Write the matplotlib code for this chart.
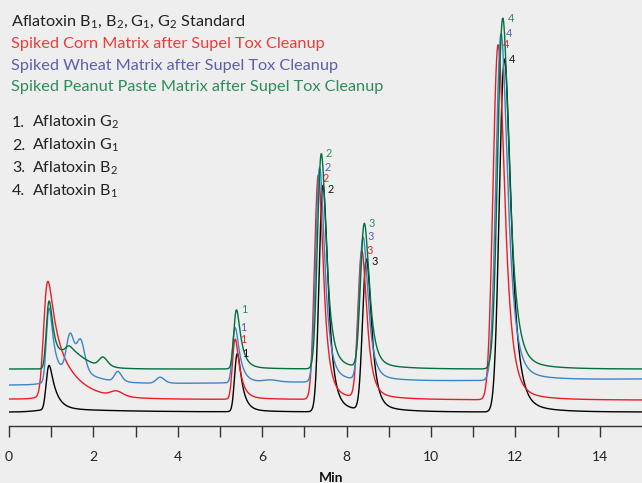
import math
import numpy as np
import matplotlib
matplotlib.use('Agg')
import matplotlib.pyplot as plt
from matplotlib.ticker import FixedLocator, FuncFormatter

plt.rcParams['font.family'] = ['Lato', 'DejaVu Sans']
plt.rcParams['mathtext.fontset'] = 'custom'
plt.rcParams['mathtext.rm'] = 'Lato'
plt.rcParams['mathtext.it'] = 'Lato:italic'
plt.rcParams['mathtext.bf'] = 'Lato:bold'
plt.rcParams['mathtext.default'] = 'regular'

# Aflatoxin peaks G2, G1, B2, B1: apex time (min) and height above baseline,
# read off the chromatogram. Peak widths are shared by all four traces.
afla_sigma = [0.05, 0.075, 0.075, 0.10]
afla_tau = [0.11, 0.11, 0.11, 0.14]

black_base = (14, 14)
black_afla_times = [5.41, 7.44, 8.47, 11.74]
black_afla_heights = [57, 222, 148, 346]
# matrix / solvent front peaks: time, height, sigma, tau
black_other_times = [0.95, 1.20]
black_other_heights = [44, 3]
black_other_sigma = [0.05, 0.3]
black_other_tau = [0.15, 1.5]

red_base = (27, 26)
red_afla_times = [5.36, 7.33, 8.36, 11.59]
red_afla_heights = [59, 220, 144, 348]
red_other_times = [0.92, 1.40, 2.55]
red_other_heights = [111, 15, 5]
red_other_sigma = [0.07, 0.3, 0.12]
red_other_tau = [0.25, 0.6, 0.1]

blue_base = (41, 47)
blue_afla_times = [5.36, 7.36, 8.39, 11.66]
blue_afla_heights = [54, 210, 140, 340]
blue_other_times = [0.95, 1.50, 1.45, 1.70, 2.58, 3.58, 6.20]
blue_other_heights = [72, 14, 36, 30, 10, 6, 2]
blue_other_sigma = [0.05, 0.3, 0.08, 0.08, 0.07, 0.08, 0.15]
blue_other_tau = [0.11, 0.5, 0.06, 0.06, 0.06, 0.07, 0.1]

green_base = (57, 57)
green_afla_times = [5.39, 7.40, 8.42, 11.70]
green_afla_heights = [58, 211, 141, 344]
green_other_times = [0.95, 1.45, 1.42, 2.23]
green_other_heights = [66, 18, 4, 9]
green_other_sigma = [0.05, 0.2, 0.06, 0.08]
green_other_tau = [0.11, 0.35, 0.06, 0.08]

peak_numbers = ['1', '2', '3', '4']

legend_lines = [
    'Aflatoxin B$_1$, B$_2$, G$_1$, G$_2$ Standard',
    'Spiked Corn Matrix after Supel Tox Cleanup',
    'Spiked Wheat Matrix after Supel Tox Cleanup',
    'Spiked Peanut Paste Matrix after Supel Tox Cleanup',
]
compounds = ['Aflatoxin G$_2$', 'Aflatoxin G$_1$', 'Aflatoxin B$_2$', 'Aflatoxin B$_1$']

x_ticks = list(range(0, 15))

erfc = np.vectorize(math.erfc)


def emg(t, s, tau):
    # gaussian convolved with an exponential decay, centred on 0
    z = (s / tau - t / s) / math.sqrt(2)
    return np.exp(s * s / (2 * tau * tau) - t / tau) * erfc(z)


def peak(t, t_apex, h, s, tau):
    dt = np.linspace(-1, 3, 4001)
    ref = emg(dt, s, tau)
    i = np.argmax(ref)
    return h * emg(t - t_apex + dt[i], s, tau) / ref[i]


def trace(t, base, afla_t, afla_h, oth_t, oth_h, oth_s, oth_tau):
    y = base[0] + (base[1] - base[0]) * t / t[-1]
    for a, h, s, ta in zip(oth_t, oth_h, oth_s, oth_tau):
        y = y + peak(t, a, h, s, ta)
    for a, h, s, ta in zip(afla_t, afla_h, afla_sigma, afla_tau):
        y = y + peak(t, a, h, s, ta)
        # slow tailing of the column
        y = y + peak(t, a + 0.2, 0.03 * h, 0.15, 0.6)
    return y


t = np.linspace(0, 15, 3001)

traces = [
    (green_base, green_afla_times, green_afla_heights, green_other_times,
     green_other_heights, green_other_sigma, green_other_tau, '#00703c', '#2e8b57'),
    (blue_base, blue_afla_times, blue_afla_heights, blue_other_times,
     blue_other_heights, blue_other_sigma, blue_other_tau, '#3d85c6', '#5a5fb5'),
    (red_base, red_afla_times, red_afla_heights, red_other_times,
     red_other_heights, red_other_sigma, red_other_tau, '#ed1c24', '#e8262b'),
    (black_base, black_afla_times, black_afla_heights, black_other_times,
     black_other_heights, black_other_sigma, black_other_tau, '#000000', '#111111'),
]
text_colors = ['#222222', '#ee3b3b', '#5b5fae', '#2f8c5a']

W, H = 642, 483
fig = plt.figure(figsize=(W / 100, H / 100), dpi=100, facecolor='#eeeeee')
ax = fig.add_axes([9 / W, 57 / H, (W - 9) / W, 426 / H])
ax.set_facecolor('#eeeeee')

curves = [trace(t, *tr[:7]) for tr in traces]

for tr, y in list(zip(traces, curves))[::-1]:
    ax.plot(t, y, color=tr[7], lw=1.0)

last_label_y = [1e9] * 4
for tr, y in zip(traces, curves):
    for k, (num, a) in enumerate(zip(peak_numbers, tr[1])):
        win = np.abs(t - a) < 0.15
        j = np.where(win)[0][np.argmax(y[win])]
        ly = min(y[j], last_label_y[k] - 11)
        last_label_y[k] = ly
        ax.text(t[j] + 0.11, ly, num, color=tr[8], fontsize=7.8,
                ha='left', va='center')

ax.set_xlim(0, (W - 9) / 42.2)
ax.set_ylim(0, 426)
for side in ['left', 'right', 'top']:
    ax.spines[side].set_visible(False)
ax.spines['bottom'].set_color('#333333')
ax.spines['bottom'].set_linewidth(1.0)
ax.set_yticks([])
ax.xaxis.set_major_locator(FixedLocator(x_ticks))
ax.xaxis.set_major_formatter(FuncFormatter(lambda v, p: f'{int(v)}' if int(v) % 2 == 0 else ''))
ax.xaxis.set_minor_locator(FixedLocator([0, 10]))
ax.tick_params(axis='x', which='major', length=8, width=1.0, color='#333333',
               labelsize=10, labelcolor='#222222', pad=10)
ax.tick_params(axis='x', which='minor', length=15, width=1.0, color='#333333')

fig.text(331 / W, 1 - 478 / H, 'Min', fontsize=10, fontweight='bold',
         color='#111111', ha='center', va='center')

for i, (line, col) in enumerate(zip(legend_lines, text_colors)):
    fig.text(11 / W, 1 - (26 + 21.8 * i) / H, line, fontsize=11.7,
             color=col, ha='left', va='baseline')

for i, (num, name) in enumerate(zip(peak_numbers, compounds)):
    yb = 1 - (127 + 22.7 * i) / H
    fig.text(12 / W, yb, num + '.', fontsize=11.5, color='#222222', ha='left', va='baseline')
    fig.text(32 / W, yb, name, fontsize=11.5, color='#222222', ha='left', va='baseline')

fig.savefig('out.png', dpi=100, facecolor=fig.get_facecolor())
